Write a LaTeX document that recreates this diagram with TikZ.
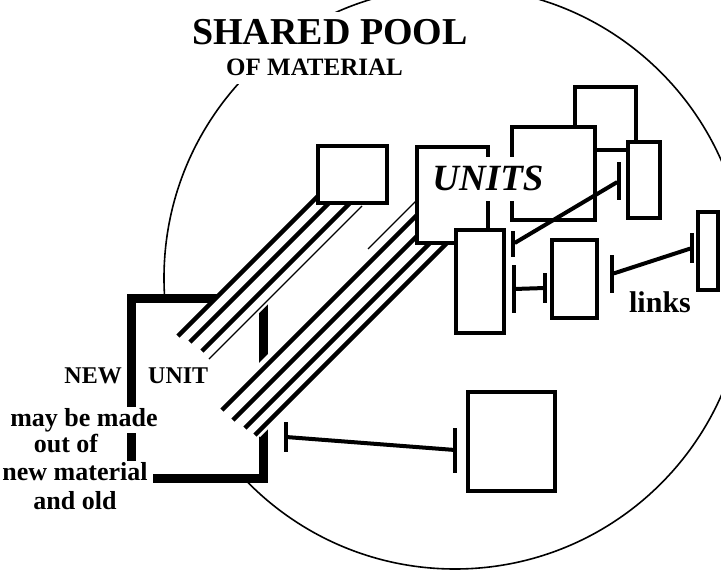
\documentclass[tikz,border=0pt]{standalone}
\usepackage{fontspec}
\setmainfont{Liberation Serif}
\tikzset{
    unit-box/.style = {draw, fill=white, line width=4pt, rectangle, inner sep=0pt, outer sep=0pt},
    frame-box/.style = {draw, fill=white, line width=9pt, rectangle, inner sep=0pt, outer sep=0pt},
    strand/.style = {line width=4.5pt},
    thin-strand/.style = {line width=1.1pt},
    link-line/.style = {line width=4pt},
    link-bar/.style = {fill, rectangle, minimum width=3.5pt, inner sep=0pt, outer sep=0pt},
    label-text/.style = {inner sep=0pt},
}

\begin{document}
\begin{tikzpicture}[x=1pt, y=-1pt]
\useasboundingbox (0,0) rectangle (721,570);
\begin{scope}
\clip (0,0) rectangle (721,570);
\draw[line width=1.6pt] (455,278) circle [radius=291pt];
\end{scope}

\node[unit-box, minimum width=61pt, minimum height=63pt] (back) at (605.5,118.5) {};
\node[unit-box, minimum width=83pt, minimum height=93pt] (big) at (553.5,173.5) {};
\node[unit-box, minimum width=32pt, minimum height=76pt] (tall) at (644,180) {};
\node[unit-box, minimum width=45pt, minimum height=78pt] (mid) at (574.5,279) {};
\node[unit-box, minimum width=20pt, minimum height=78pt] (rim) at (708,251) {};
\node[unit-box, minimum width=87pt, minimum height=99pt] (lone) at (511.5,441.5) {};

% links
\node[link-bar, minimum height=26pt] (l1a) at (513,244) {};
\node[link-bar, minimum height=38pt] (l1b) at (619,181) {};
\node[link-bar, minimum height=48pt] (l2a) at (514,289) {};
\node[link-bar, minimum height=30pt] (l2b) at (545,288) {};
\node[link-bar, minimum height=38pt] (l3a) at (612,274) {};
\node[link-bar, minimum height=30pt] (l3b) at (692,248) {};
\node[link-bar, minimum height=30pt] (l4a) at (286,437) {};
\node[link-bar, minimum height=45pt] (l4b) at (455,450) {};
\draw[link-line] (l1a) -- (l1b);
\draw[link-line] (l2a) -- (l2b);
\draw[link-line] (l3a) -- (l3b);
\draw[link-line] (l4a) -- (l4b);

\node[frame-box, minimum width=132pt, minimum height=180pt] (newunit) at (197,388) {};

% material strands
\fill[white] (177,335) -- (321,191) -- (381,191) -- (211,361) -- cycle;
\fill[white] (218,404) -- (417,205) -- (417,243) -- (454,243) -- (260,437) -- cycle;
\foreach \c/\lo/\hi [count=\i] in {514/178/319, 532/190/342, 553/202/363} {
    \coordinate (oldend\i) at (\lo,{\c-\lo});
    \coordinate (poolend\i) at (\hi,{\c-\hi});
    \draw[strand] (oldend\i) -- (poolend\i);
}
\coordinate (oldend4) at (209,359);
\coordinate (poolend4) at (362,206);
\draw[thin-strand] (oldend4) -- (poolend4);
\foreach \c/\lo/\hi [count=\i] in {632/222/425, 653/233/425, 673/245/440, 690/255/452} {
    \coordinate (newend\i) at (\lo,{\c-\lo});
    \coordinate (unitend\i) at (\hi,{\c-\hi});
    \draw[strand] (newend\i) -- (unitend\i);
}
\coordinate (newend0) at (368,249);
\coordinate (unitend0) at (425,192);
\draw[thin-strand] (newend0) -- (unitend0);

\node[unit-box, minimum width=69pt, minimum height=57pt] (square) at (352.5,174.5) {};
\node[unit-box, minimum width=71pt, minimum height=96pt] (units) at (452.5,195) {};
\node[unit-box, minimum width=48pt, minimum height=103pt] (below) at (480,281.5) {};

\node[label-text, fill=white, inner xsep=3pt, text height=33pt, text depth=11pt, anchor=base,
      font=\bfseries\itshape\fontsize{37}{40}\selectfont] (unitslabel) at (488,190) {UNITS};
\node[label-text, fill=white, inner xsep=3pt, text height=33pt, text depth=2pt, anchor=base,
      font=\bfseries\fontsize{38}{40}\selectfont] (title) at (330,45) {SHARED POOL};
\node[label-text, fill=white, inner xsep=3pt, text height=28pt, text depth=9pt, anchor=base,
      font=\bfseries\fontsize{25}{28}\selectfont] (subtitle) at (314.5,75) {OF MATERIAL};

\node[label-text, anchor=base east, font=\bfseries\fontsize{24}{26}\selectfont] (newlabel) at (122,383) {NEW};
\node[label-text, anchor=base west, font=\bfseries\fontsize{24}{26}\selectfont] (unitlabel) at (148,383) {UNIT};
\node[label-text, fill=white, inner xsep=2pt, inner ysep=1pt, anchor=base,
      font=\bfseries\fontsize{26}{28}\selectfont] (may) at (84,426) {may be made};
\node[label-text, fill=white, inner xsep=2pt, inner ysep=1pt, anchor=base,
      font=\bfseries\fontsize{26}{28}\selectfont] (outof) at (66,452) {out of};
\node[label-text, fill=white, inner xsep=5pt, inner ysep=1pt, text height=18pt, text depth=5pt, anchor=base,
      font=\bfseries\fontsize{26}{28}\selectfont] (newmat) at (75,480) {new material};
\node[label-text, fill=white, inner xsep=2pt, inner ysep=1pt, anchor=base,
      font=\bfseries\fontsize{26}{28}\selectfont] (andold) at (75,509) {and old};

\node[label-text, anchor=base, font=\bfseries\fontsize{30}{32}\selectfont] (links) at (660,312) {links};
\end{tikzpicture}
\end{document}
